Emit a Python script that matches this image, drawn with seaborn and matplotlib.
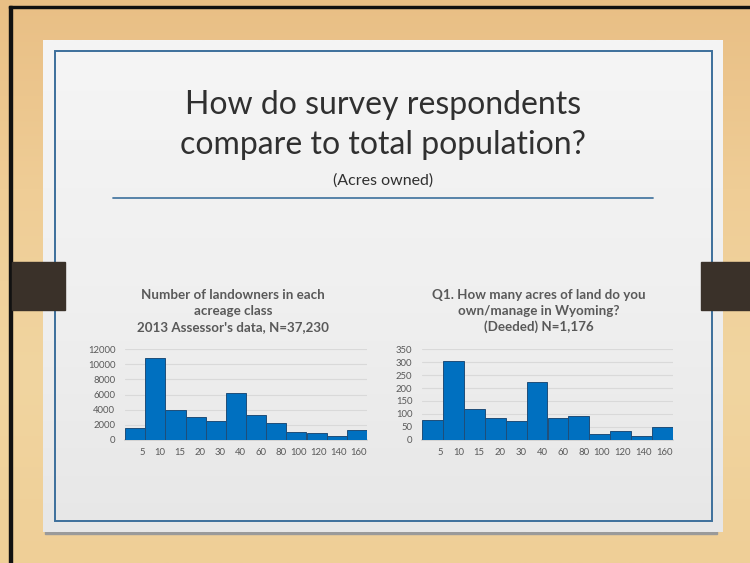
import matplotlib
matplotlib.use("Agg")
import matplotlib.pyplot as plt
from matplotlib.patches import Rectangle
from matplotlib.colors import LinearSegmentedColormap
import numpy as np
import pandas as pd
import seaborn as sns

# ---- data ----
classes = ["5", "10", "15", "20", "30", "40", "60", "80", "100", "120", "140", "160"]
assessor_counts = [1550, 10900, 4000, 3000, 2500, 6150, 3250, 2250, 1050, 900, 450, 1300]
survey_counts = [75, 305, 120, 84, 74, 225, 83, 91, 22, 34, 14, 48]
left_ticks = [0, 2000, 4000, 6000, 8000, 10000, 12000]
right_ticks = [0, 50, 100, 150, 200, 250, 300, 350]

main_title = "How do survey respondents\ncompare to total population?"
subtitle = "(Acres owned)"
left_title = "Number of landowners in each\nacreage class\n2013 Assessor's data, N=37,230"
right_title = "Q1. How many acres of land do you\nown/manage in Wyoming?\n(Deeded) N=1,176"

sns.set_theme(style="white")
plt.rcParams["font.family"] = ["Lato", "DejaVu Sans"]

W, H = 750, 563
fig = plt.figure(figsize=(7.5, 5.63), dpi=100)

# background canvas in pixel coordinates
bg = fig.add_axes([0, 0, 1, 1], zorder=-10)
bg.set_xlim(0, W)
bg.set_ylim(H, 0)
bg.axis("off")

# wood-like background gradient
grad = np.linspace(0, 1, 200).reshape(-1, 1)
wood = LinearSegmentedColormap.from_list("wood", ["#e9bf85", "#efcd96", "#f1d5a0", "#efcf97"])
bg.imshow(grad, cmap=wood, extent=[0, W, H, 0], aspect="auto", zorder=0)

# black frame lines (left and top)
bg.add_patch(Rectangle((9, 6), 3, H - 6, color="#111111", zorder=1))
bg.add_patch(Rectangle((9, 6), W - 9, 2, color="#111111", zorder=1))

# card shadow and card
bg.add_patch(Rectangle((45, 531), 672, 3, color="#9a9a9a", zorder=2))
card_cmap = LinearSegmentedColormap.from_list("card", ["#f5f5f5", "#f0f0f0", "#e7e7e7"])
bg.imshow(grad, cmap=card_cmap, extent=[43, 723, 532, 40], aspect="auto", zorder=3)

# inner blue border
bg.add_patch(Rectangle((54.5, 50.5), 657, 470, fill=False, edgecolor="#3d6f9b", lw=1.4, zorder=4))

# dark tabs (on top of the border)
bg.add_patch(Rectangle((12, 262), 53, 48, color="#3a3129", zorder=5))
bg.add_patch(Rectangle((701, 262), 49, 48, color="#3a3129", zorder=5))

# title divider line
bg.plot([113, 653], [198, 198], color="#4a7aa3", lw=1.3, zorder=5)

# titles
bg.text(383, 125, main_title, ha="center", va="center", fontsize=23,
        fontweight="normal", color="#303030", linespacing=1.4, zorder=6)
bg.text(383, 181, subtitle, ha="center", va="center", fontsize=11.5,
        color="#303030", zorder=6)

bg.text(233, 311, left_title, ha="center", va="center", fontsize=9.6,
        fontweight="bold", color="#595959", linespacing=1.4, zorder=6)
bg.text(539, 311, right_title, ha="center", va="center", fontsize=9.6,
        fontweight="bold", color="#595959", linespacing=1.4, zorder=6)


def draw_hist(rect, values, ticks):
    ax = fig.add_axes(rect)
    ax.set_facecolor("none")
    df = pd.DataFrame({"cls": classes, "n": values})
    sns.barplot(data=df, x="cls", y="n", ax=ax, color="#0070c0", saturation=1,
                width=1.0, edgecolor="#1f4e79", linewidth=0.7, zorder=3)
    ax.set_xlim(-0.5, len(classes) - 0.5)
    ax.set_ylim(ticks[0], ticks[-1])
    ax.set_yticks(ticks)
    ax.set_yticklabels([str(t) for t in ticks])
    ax.set_xticks(np.arange(len(classes)) + 0.5)
    ax.set_xticklabels(classes, ha="right")
    ax.tick_params(axis="x", length=0, pad=6, labelsize=6.8, labelcolor="#595959")
    ax.tick_params(axis="y", length=0, pad=7, labelsize=6.8, labelcolor="#595959")
    ax.yaxis.grid(True, color="#d9d9d9", lw=0.8, zorder=0)
    ax.set_axisbelow(True)
    for s in ["left", "right", "top"]:
        ax.spines[s].set_visible(False)
    ax.spines["bottom"].set_color("#d0d0d0")
    ax.set_xlabel("")
    ax.set_ylabel("")
    return ax


draw_hist([125 / W, (H - 439.7) / H, 242 / W, 90.4 / H], assessor_counts, left_ticks)
draw_hist([422 / W, (H - 439.7) / H, 251 / W, 90.4 / H], survey_counts, right_ticks)

fig.savefig("out.png", dpi=100)
